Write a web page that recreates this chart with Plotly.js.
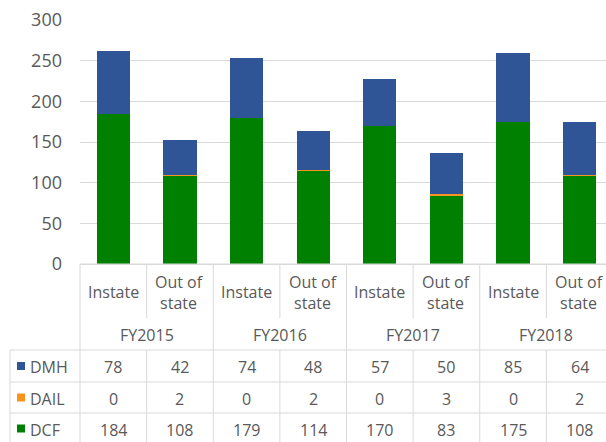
<!DOCTYPE html>
<html>
<head>
<meta charset="utf-8">
<script src="https://cdn.plot.ly/plotly-3.0.1.min.js"></script>
<style>
html,body{margin:0;padding:0;background:#fff;overflow:hidden;width:606px;height:442px;}
#chart{width:614px;height:442px;}
</style>
</head>
<body>
<div id="chart"></div>
<script>
// ---- data ----
var subCategories = ['Instate','Out of state','Instate','Out of state','Instate','Out of state','Instate','Out of state'];
var fiscalYears = ['FY2015','FY2016','FY2017','FY2018'];
var seriesNames = ['DMH','DAIL','DCF'];
var dmh  = [78, 42, 74, 48, 57, 50, 85, 64];
var dail = [0, 2, 0, 2, 0, 3, 0, 2];
var dcf  = [184, 108, 179, 114, 170, 83, 175, 108];
var yTicks = [0, 50, 100, 150, 200, 250, 300];

// ---- style / geometry ----
var colors = {DMH:'#2F5597', DAIL:'#F7941D', DCF:'#008000'};
var gridColor = '#D9D9D9';
var textColor = '#595959';
var FONT = 'Open Sans, sans-serif';
var W = 614, H = 442, ML = 80, MR = 1, MT = 20, MB = 178;
var PW = W - ML - MR, PH = H - MT - MB;
var n = subCategories.length;
function py(p){ return (H - MB - p) / PH; }          // pixel y -> paper y
function edge(k){ return k / n; }                    // category boundary k -> paper x
function pxl(p){ return (p - ML) / PW; }             // pixel x -> paper x

var xs = subCategories.map(function(_, i){ return i; });
var seriesValues = {DMH: dmh, DAIL: dail, DCF: dcf};

var traces = ['DCF','DAIL','DMH'].map(function(name){
  return {
    type:'bar', name:name, x:xs, y:seriesValues[name],
    marker:{color:colors[name], line:{width:0}},
    width:0.5, hoverinfo:'y+name'
  };
});

// ---- data table ----
var yTop = 264, ySubBottom = 318, yFYBottom = 350;
var rowEdges = [350, 382, 413, 444];
var shapes = [], annotations = [];
function line(x0,y0,x1,y1){
  shapes.push({type:'line', xref:'paper', yref:'paper', x0:x0, y0:y0, x1:x1, y1:y1,
               line:{color:gridColor, width:1}});
}
// horizontal lines
line(0, py(yTop), 1, py(yTop));
rowEdges.slice(0,3).forEach(function(r){ line(pxl(10), py(r), 1, py(r)); });
// vertical lines
for (var k = 0; k <= n; k++){
  var xp = edge(k);
  if (k % 2 === 0){
    line(xp, py(yTop), xp, py(H));
  } else {
    line(xp, py(yTop), xp, py(ySubBottom));
    line(xp, py(yFYBottom), xp, py(H));
  }
}
line(pxl(10), py(yFYBottom), pxl(10), py(H));

var TF = {family:FONT, size:16, color:textColor};
// sub-category labels
subCategories.forEach(function(s, i){
  annotations.push({xref:'x', yref:'paper', x:i, y:py((yTop + ySubBottom)/2 + 1),
    text:s.replace('Out of ', 'Out of<br>'), showarrow:false,
    font:TF, xanchor:'center', yanchor:'middle'});
});
// fiscal year labels
fiscalYears.forEach(function(fy, j){
  annotations.push({xref:'x', yref:'paper', x:2*j + 0.5, y:py((ySubBottom + yFYBottom)/2 + 1),
    text:fy, showarrow:false, font:TF, xanchor:'center', yanchor:'middle'});
});
// data rows
seriesNames.forEach(function(name, r){
  var yc = (rowEdges[r] + rowEdges[r+1]) / 2;
  shapes.push({type:'rect', xref:'paper', yref:'paper',
    x0:pxl(17), x1:pxl(25), y0:py(yc + 4), y1:py(yc - 4),
    fillcolor:colors[name], line:{width:0}});
  annotations.push({xref:'paper', yref:'paper', x:pxl(28), y:py(yc + 1), text:name,
    showarrow:false, font:TF, xanchor:'left', yanchor:'middle'});
  seriesValues[name].forEach(function(v, i){
    annotations.push({xref:'x', yref:'paper', x:i, y:py(yc + 1), text:String(v),
      showarrow:false, font:TF, xanchor:'center', yanchor:'middle'});
  });
});

var layout = {
  width:W, height:H, barmode:'stack', showlegend:false,
  margin:{l:ML, r:MR, t:MT, b:MB, pad:0},
  paper_bgcolor:'#fff', plot_bgcolor:'#fff',
  xaxis:{range:[-0.5, n - 0.5], showticklabels:false, showgrid:false, zeroline:false,
         showline:false, ticks:'', fixedrange:true},
  yaxis:{range:[0, 300], tickvals:yTicks, ticktext:yTicks.map(String), showgrid:true,
         gridcolor:gridColor, gridwidth:1, zeroline:true, zerolinecolor:gridColor, zerolinewidth:1,
         showline:false, ticks:'', ticklabelstandoff:17,
         tickfont:{family:FONT, size:18, color:textColor}, fixedrange:true},
  shapes:shapes, annotations:annotations,
  font:{family:FONT, color:textColor}
};

Plotly.newPlot('chart', traces, layout, {displayModeBar:false, staticPlot:true});
</script>
</body>
</html>
